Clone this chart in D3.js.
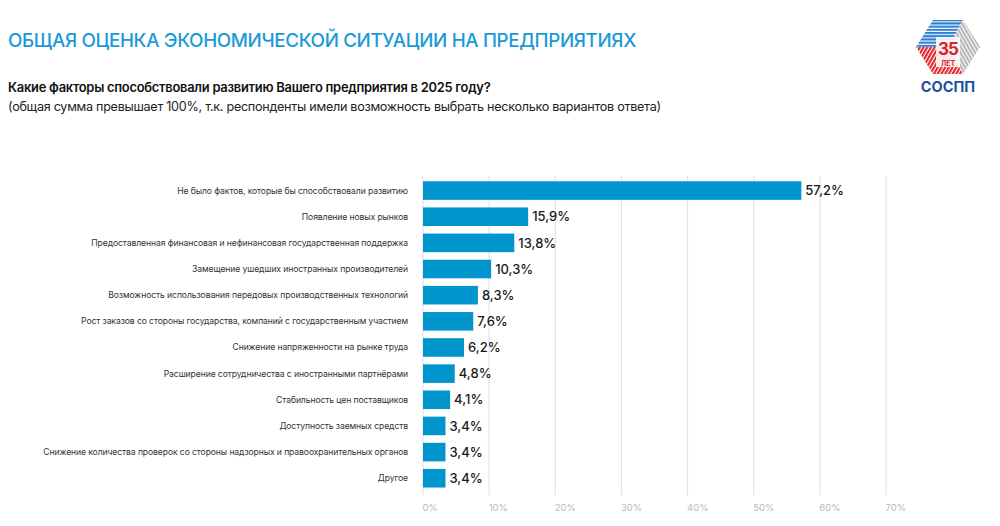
<!DOCTYPE html>
<html><head><meta charset="utf-8">
<script src="https://cdn.jsdelivr.net/npm/d3@7/dist/d3.min.js"></script>
<style>
html,body{margin:0;padding:0;background:#fff;}
svg{display:block;font-family:Inter,"Noto Sans",sans-serif;}
</style></head>
<body>
<svg id="chart" width="1000" height="526"></svg>
<script>
const categories = [
  "Не было фактов, которые бы способствовали развитию",
  "Появление новых рынков",
  "Предоставленная финансовая и нефинансовая государственная поддержка",
  "Замещение ушедших иностранных производителей",
  "Возможность использования передовых производственных технологий",
  "Рост заказов со стороны государства, компаний с государственным участием",
  "Снижение напряженности на рынке труда",
  "Расширение сотрудничества с иностранными партнёрами",
  "Стабильность цен поставщиков",
  "Доступность заемных средств",
  "Снижение количества проверок со стороны надзорных и правоохранительных органов",
  "Другое"
];
const values = [57.2, 15.9, 13.8, 10.3, 8.3, 7.6, 6.2, 4.8, 4.1, 3.4, 3.4, 3.4];
const tickValues = [0, 10, 20, 30, 40, 50, 60, 70];
const titleText = "ОБЩАЯ ОЦЕНКА ЭКОНОМИЧЕСКОЙ СИТУАЦИИ НА ПРЕДПРИЯТИЯХ";
const questionText = "Какие факторы способствовали развитию Вашего предприятия в 2025 году?";
const noteText = "(общая сумма превышает 100%, т.к. респонденты имели возможность выбрать несколько вариантов ответа)";

const svg = d3.select("#chart");
const BLUE = "#0096cd";

// Header
svg.append("text").attr("x", 8).attr("y", 47).attr("fill", "#1c9ad6")
  .attr("font-size", 18.8).attr("font-weight", 500).attr("letter-spacing", -0.35).text(titleText);
svg.append("text").attr("x", 8).attr("y", 92).attr("fill", "#111")
  .attr("font-size", 12.9).attr("font-weight", 600).attr("letter-spacing", -0.25).text(questionText);
svg.append("text").attr("x", 8).attr("y", 111).attr("fill", "#222")
  .attr("font-size", 12.6).attr("font-weight", 400).attr("letter-spacing", -0.28).text(noteText);

// Scales
const x = d3.scaleLinear().domain([0, 70]).range([423, 886]);
const y = d3.scaleBand().domain(categories).range([177.5, 491.3]).paddingInner(0.29).paddingOuter(0.145);

// Grid
const grid = svg.append("g");
grid.selectAll("line").data(tickValues).join("line")
  .attr("x1", d => x(d)).attr("x2", d => x(d))
  .attr("y1", 176).attr("y2", 495)
  .attr("stroke", "#e3e3e3").attr("stroke-width", 1.2);

// Axis tick labels
const axis = d3.axisBottom(x).tickValues(tickValues).tickSize(0).tickFormat(d => d + "%");
const ax = svg.append("g").attr("transform", "translate(0,501)").call(axis);
ax.select(".domain").remove();
ax.selectAll("text").attr("fill", "#b8b8b8").attr("font-size", 9.5)
  .attr("text-anchor", "start").attr("dx", -1)
  .attr("font-family", "Inter,'Noto Sans',sans-serif");

// Bars
svg.append("g").selectAll("rect").data(values).join("rect")
  .attr("x", x(0))
  .attr("y", (d, i) => y(categories[i]))
  .attr("width", d => x(d) - x(0))
  .attr("height", y.bandwidth())
  .attr("fill", BLUE);

// Category labels
svg.append("g").selectAll("text").data(categories).join("text")
  .attr("x", 408).attr("y", d => y(d) + y.bandwidth() / 2)
  .attr("dy", "0.35em").attr("text-anchor", "end")
  .attr("font-size", 8.6).attr("fill", "#333").attr("letter-spacing", -0.1)
  .text(d => d);

// Value labels
const fmt = v => v.toFixed(1).replace(".", ",") + "%";
svg.append("g").selectAll("text").data(values).join("text")
  .attr("x", d => x(d) + 4).attr("y", (d, i) => y(categories[i]) + y.bandwidth() / 2)
  .attr("dy", "0.36em")
  .attr("font-size", 13).attr("font-weight", 500).attr("fill", "#1a1a1a")
  .text(d => fmt(d));

// Logo
const defs = svg.append("defs");
function stripes(id, color, angle) {
  const p = defs.append("pattern").attr("id", id).attr("patternUnits", "userSpaceOnUse")
    .attr("width", 3.2).attr("height", 3.2).attr("patternTransform", `rotate(${angle})`);
  p.append("rect").attr("width", 3.2).attr("height", 3.2).attr("fill", "#fff");
  p.append("rect").attr("width", 3.2).attr("height", 2.1).attr("fill", color);
}
stripes("stBlue", "#2a7fd0", 0);
stripes("stRed", "#e2262b", -60);
stripes("stGray", "#b5b5b5", 60);
const logo = svg.append("g");
const A=[933,20],B=[963,20],C=[980,47],D=[963,74],E=[933,74],F=[916,47],O=[948,47];
const poly = pts => "M" + pts.map(p => p.join(",")).join("L") + "Z";
logo.append("path").attr("d", poly([F,A,B,O])).attr("fill", "url(#stBlue)");
logo.append("path").attr("d", poly([B,C,D,O])).attr("fill", "url(#stGray)");
logo.append("path").attr("d", poly([D,E,F,O])).attr("fill", "url(#stRed)");
logo.append("rect").attr("x", 936).attr("y", 37).attr("width", 24).attr("height", 30).attr("fill", "#fff").attr("opacity", 0.85);
logo.append("text").attr("x", 948).attr("y", 55).attr("text-anchor", "middle")
  .attr("font-size", 17).attr("font-weight", 700).attr("fill", "#d8232a").attr("letter-spacing", -1).text("35");
logo.append("text").attr("x", 948).attr("y", 66).attr("text-anchor", "middle")
  .attr("font-size", 7).attr("font-weight", 700).attr("fill", "#d8232a").text("ЛЕТ");
logo.append("text").attr("x", 948).attr("y", 92).attr("text-anchor", "middle")
  .attr("font-size", 14.5).attr("font-weight", 700).attr("fill", "#1f4fa3").text("СОСПП");
</script>
</body></html>
